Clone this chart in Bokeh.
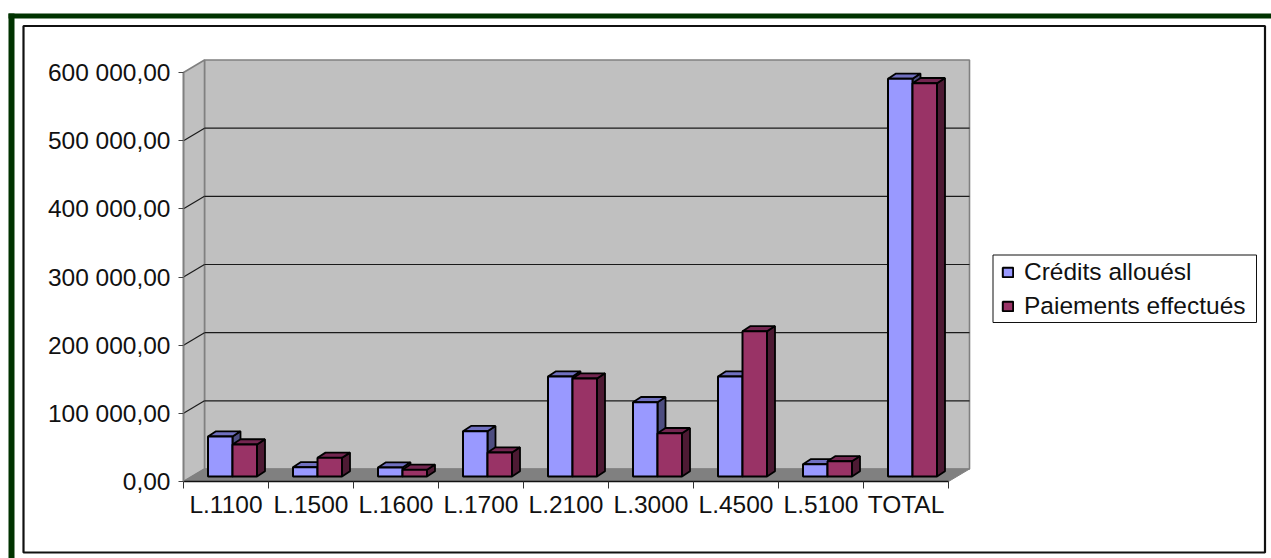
from bokeh.plotting import figure
from bokeh.models import (BoxAnnotation, Legend, LegendItem, LinearAxis, FixedTicker,
                          Range1d)
from bokeh.embed import file_html
from bokeh.resources import INLINE

categories = ["L.1100", "L.1500", "L.1600", "L.1700", "L.2100", "L.3000", "L.4500", "L.5100", "TOTAL"]
credits_alloues = [58700, 13600, 13200, 66500, 146700, 109000, 146700, 18000, 583500]
paiements = [47000, 27400, 9800, 35200, 143800, 63500, 213000, 22400, 577000]
y_ticks = [0, 100000, 200000, 300000, 400000, 500000, 600000]
y_labels = ["0,00", "100 000,00", "200 000,00", "300 000,00", "400 000,00", "500 000,00", "600 000,00"]
series_names = ["Crédits allouésl", "Paiements effectués"]

FONT = "Liberation Sans"
FS = "24.5px"
W, H = 1271, 558
OX, OY = 183, 481  # page position of the axes' origin
KX = 1 / 85.0
KY = 600000 / 409.0
WDX, WDY = 21, 12.5
BDX, BDY = 8, 5.2
BASEX, BASEY = 6.5, 5.0
BARW = 24.5

p = figure(width=W, height=H, output_backend="svg", toolbar_location=None,
           x_range=Range1d(-OX * KX, (W - OX) * KX), y_range=Range1d((OY - H) * KY, OY * KY),
           min_border=0, x_axis_type=None, y_axis_type=None, outline_line_color=None,
           background_fill_color="white", border_fill_color="white")
p.grid.visible = False


def box(l, r, t, b, **kw):
    # t and b are page rows; screen units of a box count from the bottom here
    p.add_layout(BoxAnnotation(left=l, right=r, top=H - t, bottom=H - b, left_units="screen", right_units="screen",
                               top_units="screen", bottom_units="screen", level="underlay", **kw))


green = "#003300"
box(8, W, 13, 18, fill_color=green, fill_alpha=1, line_alpha=0)
box(8, 14, 13, H, fill_color=green, fill_alpha=1, line_alpha=0)
box(23, 1264.5, 25.5, 552, fill_alpha=0, line_color="#111111", line_alpha=1, line_width=2.2)
box(992.5, 1256, 254.5, 322, fill_color="white", fill_alpha=1, line_color="#111111", line_alpha=1, line_width=1)

n = len(categories)
wx, wy = WDX * KX, WDY * KY
xw = n
top = y_ticks[-1]
wall = "#c0c0c0"
edge = "#808080"
p.patch([wx, xw + wx, xw + wx, wx], [wy, wy, top + wy, top + wy], fill_color=wall, line_color=edge, line_width=1.6)
p.patch([0, wx, wx, 0], [0, wy, top + wy, top], fill_color=wall, line_color=edge, line_width=1.6)
p.patch([0, xw, xw + wx, wx], [0, 0, wy, wy], fill_color=edge, line_color=edge, line_width=1)
gy = y_ticks[1:-1]
p.segment(x0=[wx] * len(gy), y0=[v + wy for v in gy], x1=[xw + wx] * len(gy), y1=[v + wy for v in gy],
          line_color="#1a1a1a", line_width=1.2)
p.segment(x0=[0] * len(gy), y0=gy, x1=[wx] * len(gy), y1=[v + wy for v in gy],
          line_color="#1a1a1a", line_width=1.2)


def bars(vals, side_offset, front, topc, side):
    bw = BARW * KX
    bdx, bdy = BDX * KX, BDY * KY
    y0 = BASEY * KY
    x0 = [i + 0.5 + BASEX * KX + side_offset * bw for i in range(n)]
    x1 = [a + bw for a in x0]
    y1 = [y0 + v for v in vals]
    p.patches([[b, b + bdx, b + bdx, b] for b in x1],
              [[y0, y0 + bdy, t + bdy, t] for t in y1],
              fill_color=side, line_color="black", line_width=1.8)
    p.patches([[a, b, b + bdx, a + bdx] for a, b in zip(x0, x1)],
              [[t, t, t + bdy, t + bdy] for t in y1],
              fill_color=topc, line_color="black", line_width=1.8)
    return p.quad(left=x0, right=x1, bottom=[y0] * n, top=y1, fill_color=front,
                  line_color="black", line_width=2)


r1 = bars(credits_alloues, -1, "#9999ff", "#7070c0", "#4d4d80")
r2 = bars(paiements, 0, "#993366", "#732650", "#4d1a33")

yax = LinearAxis(ticker=FixedTicker(ticks=y_ticks), major_label_overrides=dict(zip(y_ticks, y_labels)),
                 fixed_location=0, bounds=(0, 600000),
                 major_tick_out=5, major_tick_in=0, minor_tick_out=0, minor_tick_in=0,
                 axis_line_color=edge, axis_line_width=1.6, major_tick_line_color="#444444",
                 major_label_standoff=8, major_label_text_font=FONT, major_label_text_font_size=FS,
                 major_label_text_color="#111111")
p.add_layout(yax, "left")
centers = [i + 0.5 for i in range(n)]
xax = LinearAxis(ticker=FixedTicker(ticks=centers, minor_ticks=list(range(n + 1))),
                 major_label_overrides=dict(zip(centers, categories)),
                 fixed_location=0, bounds=(0, n),
                 major_tick_out=0, major_tick_in=0, minor_tick_out=7, minor_tick_in=0,
                 axis_line_color="#111111", axis_line_width=1.4, minor_tick_line_color="#333333",
                 major_label_standoff=2, major_label_text_font=FONT, major_label_text_font_size=FS,
                 major_label_text_color="#111111")
p.add_layout(xax, "below")

legend = Legend(items=[LegendItem(label=series_names[0], renderers=[r1]),
                       LegendItem(label=series_names[1], renderers=[r2])],
                location=(1001, H - 322 + 2), margin=0, padding=0, spacing=6,
                border_line_color=None, background_fill_alpha=0,
                glyph_width=13, glyph_height=12, label_standoff=10,
                label_text_font=FONT, label_text_font_size=FS, label_text_color="#111111")
p.add_layout(legend, "center")

open("out.html", "w").write(file_html(p, INLINE))
